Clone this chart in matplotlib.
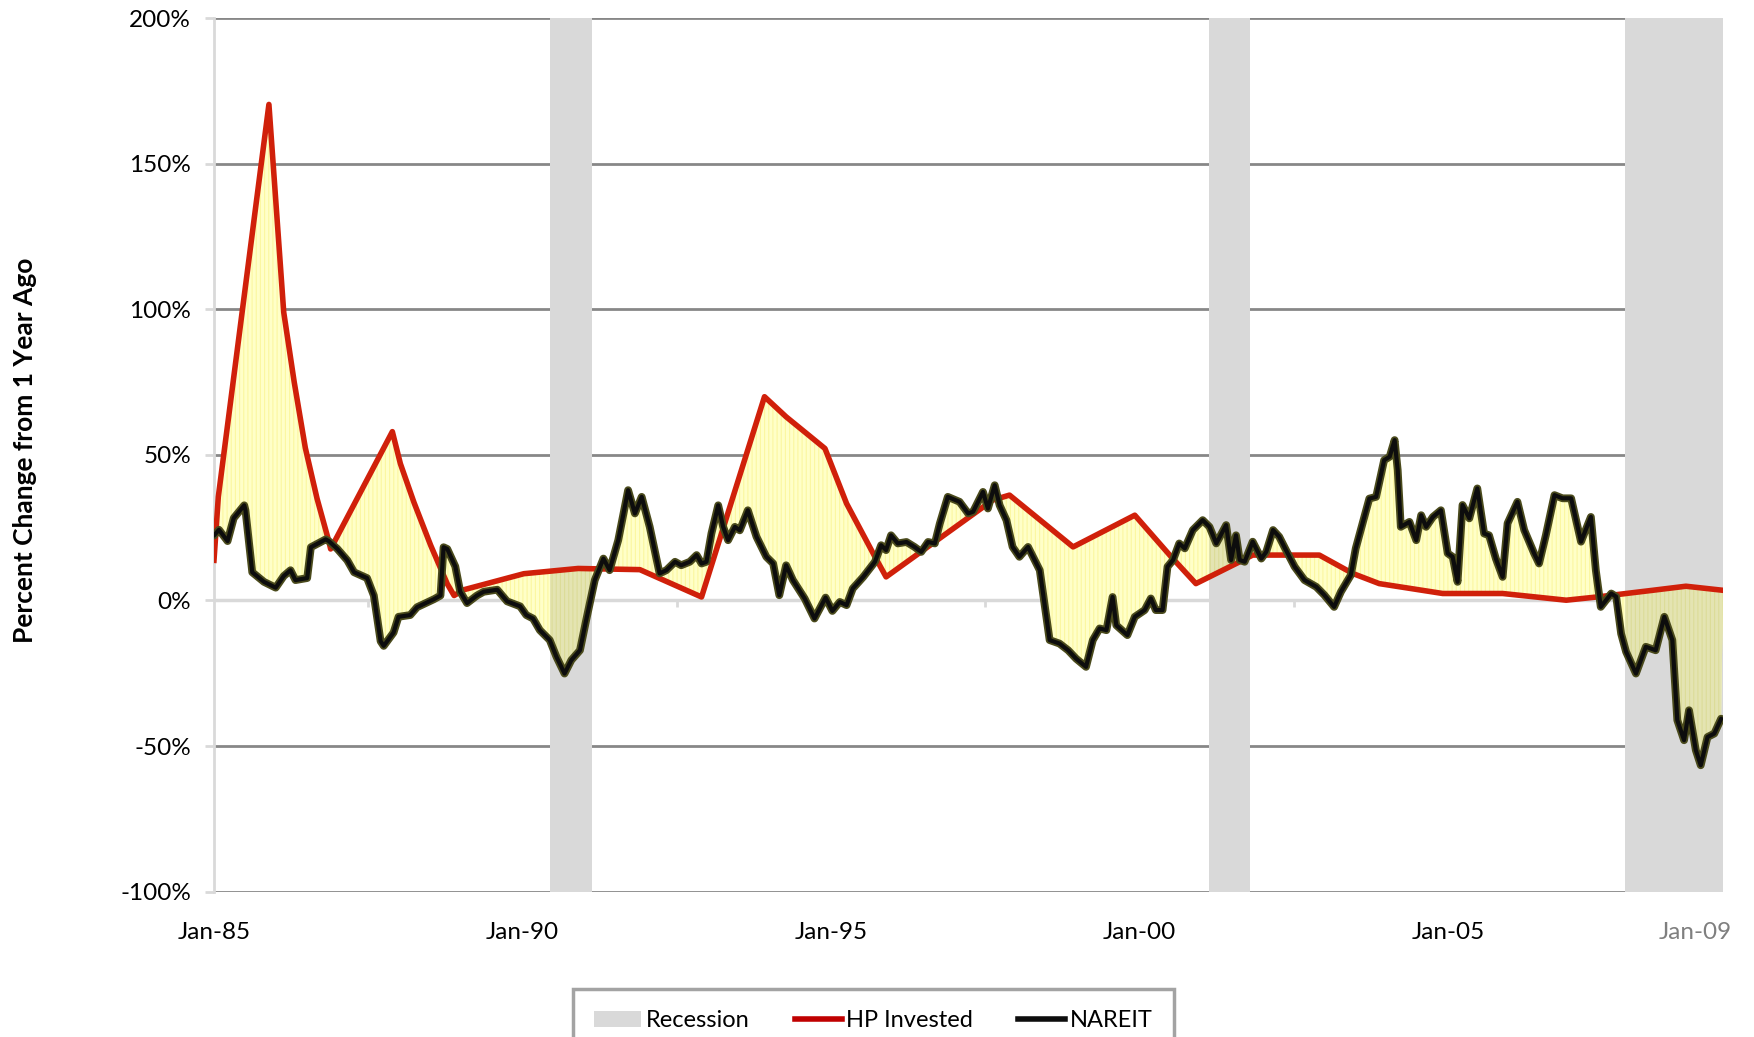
import matplotlib
matplotlib.use("Agg")
import matplotlib.pyplot as plt
from matplotlib.patches import Patch, Rectangle
from matplotlib.lines import Line2D
import numpy as np

plt.rcParams['font.family'] = ['Lato', 'DejaVu Sans']
plt.rcParams['hatch.linewidth'] = 0.8

# NAREIT, % change from 1 year ago (decimal year, value)
nareit_dates = [
    1985.00, 1985.08, 1985.22, 1985.32, 1985.49, 1985.51, 1985.62, 1985.81, 1986.00, 1986.13,
    1986.24, 1986.32, 1986.51, 1986.57, 1986.81, 1986.86, 1987.00, 1987.16, 1987.27, 1987.48,
    1987.59, 1987.70, 1987.75, 1987.91, 1987.99, 1988.18, 1988.29, 1988.56, 1988.67, 1988.72,
    1988.78, 1988.91, 1988.99, 1989.10, 1989.26, 1989.37, 1989.59, 1989.75, 1989.96, 1990.06,
    1990.17, 1990.28, 1990.44, 1990.55, 1990.68, 1990.79, 1990.93, 1991.03, 1991.17, 1991.31,
    1991.41, 1991.55, 1991.71, 1991.82, 1991.93, 1992.06, 1992.22, 1992.33, 1992.47, 1992.57,
    1992.71, 1992.82, 1992.90, 1992.98, 1993.06, 1993.17, 1993.25, 1993.33, 1993.44, 1993.52,
    1993.65, 1993.79, 1993.95, 1994.06, 1994.16, 1994.27, 1994.38, 1994.57, 1994.73, 1994.91,
    1995.02, 1995.14, 1995.25, 1995.35, 1995.52, 1995.71, 1995.81, 1995.89, 1995.97, 1996.08,
    1996.22, 1996.35, 1996.46, 1996.57, 1996.68, 1996.76, 1996.89, 1997.08, 1997.22, 1997.30,
    1997.46, 1997.54, 1997.65, 1997.73, 1997.84, 1997.94, 1998.05, 1998.19, 1998.38, 1998.54,
    1998.70, 1998.84, 1998.97, 1999.13, 1999.24, 1999.35, 1999.46, 1999.56, 1999.62, 1999.80,
    1999.92, 2000.08, 2000.18, 2000.26, 2000.37, 2000.45, 2000.54, 2000.64, 2000.73, 2000.86,
    2001.02, 2001.13, 2001.24, 2001.40, 2001.48, 2001.56, 2001.62, 2001.70, 2001.83, 2001.97,
    2002.05, 2002.16, 2002.26, 2002.37, 2002.51, 2002.67, 2002.86, 2002.99, 2003.15, 2003.26,
    2003.42, 2003.50, 2003.72, 2003.83, 2003.96, 2004.05, 2004.13, 2004.18, 2004.23, 2004.37,
    2004.48, 2004.56, 2004.64, 2004.75, 2004.88, 2004.99, 2005.07, 2005.15, 2005.23, 2005.34,
    2005.47, 2005.58, 2005.66, 2005.77, 2005.88, 2005.96, 2006.12, 2006.23, 2006.39, 2006.47,
    2006.58, 2006.72, 2006.85, 2006.99, 2007.15, 2007.31, 2007.39, 2007.47, 2007.64, 2007.72,
    2007.80, 2007.88, 2008.04, 2008.20, 2008.36, 2008.50, 2008.63, 2008.71, 2008.82, 2008.90,
    2009.01, 2009.09, 2009.20, 2009.31, 2009.42,
]
nareit_vals = [
    22.3, 24.3, 20.4, 28.3, 32.7, 31.0, 9.7, 6.4, 4.4, 8.4,
    10.4, 7.0, 7.7, 18.3, 21.0, 20.4, 17.7, 13.8, 9.7, 7.7,
    1.7, -14.0, -15.6, -11.0, -5.6, -5.0, -2.3, 0.4, 1.7, 18.3,
    17.7, 11.7, 3.0, -0.9, 1.7, 3.0, 3.7, -0.3, -2.0, -5.0,
    -6.2, -10.2, -13.6, -19.4, -25.1, -20.5, -17.1, -6.8, 7.0, 14.4,
    10.4, 20.7, 37.9, 29.9, 35.6, 25.3, 9.3, 10.4, 13.3, 12.1,
    13.3, 15.6, 12.7, 13.3, 23.0, 32.7, 25.3, 20.7, 25.3, 24.1,
    31.0, 21.9, 15.0, 12.7, 1.8, 12.1, 7.0, 0.7, -6.2, 1.0,
    -3.6, -0.5, -1.6, 4.1, 8.1, 13.3, 19.0, 17.3, 22.4, 19.6,
    20.1, 18.4, 16.7, 20.1, 19.6, 26.4, 35.6, 33.9, 29.9, 30.5,
    37.3, 31.6, 39.6, 32.7, 27.6, 18.4, 15.0, 18.4, 10.4, -13.6,
    -14.8, -17.1, -20.0, -22.8, -13.6, -9.6, -10.2, 1.2, -8.5, -11.9,
    -5.6, -3.3, 0.7, -3.3, -3.3, 11.6, 13.9, 19.6, 17.9, 24.2,
    27.6, 25.3, 19.6, 25.9, 13.9, 22.4, 13.9, 13.3, 20.2, 14.4,
    16.7, 24.2, 21.9, 17.3, 11.6, 7.0, 4.7, 1.9, -2.2, 3.0,
    8.7, 17.9, 35.0, 35.6, 48.2, 49.4, 55.1, 44.8, 25.3, 27.0,
    20.7, 29.3, 25.3, 28.7, 31.0, 16.2, 15.0, 6.4, 32.8, 28.2,
    38.5, 23.0, 22.4, 14.4, 8.1, 26.5, 33.9, 24.2, 16.2, 12.7,
    22.4, 36.2, 35.1, 35.1, 20.2, 28.7, 10.4, -2.2, 2.4, 1.3,
    -11.4, -17.6, -25.1, -15.9, -17.1, -5.6, -13.6, -41.1, -48.0, -37.7,
    -51.4, -56.6, -46.9, -45.7, -40.6,
]

# HP Invested, % change from 1 year ago
hp_dates = [
    1985.00, 1985.07, 1985.89, 1986.13, 1986.30, 1986.48, 1986.67, 1986.86, 1986.89, 1987.89,
    1988.02, 1988.24, 1988.51, 1988.78, 1988.89, 1989.05, 1990.02, 1990.90, 1991.90, 1992.90,
    1993.92, 1994.27, 1994.60, 1994.90, 1995.25, 1995.71, 1995.89, 1997.62, 1997.89, 1998.92,
    1999.92, 2000.51, 2000.91, 2001.62, 2001.83, 2002.91, 2003.45, 2003.88, 2004.91, 2005.88,
    2006.91, 2007.45, 2007.88, 2008.31, 2008.85, 2009.45,
]
hp_vals = [
    13.8, 35.6, 170.4, 99.0, 75.0, 52.4, 35.0, 20.4, 17.7, 58.0,
    47.0, 33.7, 19.0, 5.7, 1.7, 3.7, 9.2, 11.0, 10.6, 1.2,
    70.0, 63.1, 57.4, 52.2, 33.3, 15.0, 8.1, 34.5, 36.2, 18.4,
    29.3, 15.0, 5.8, 13.3, 15.6, 15.6, 9.3, 5.8, 2.4, 2.4,
    0.1, 1.3, 2.4, 3.5, 4.9, 3.5,
]

rec_starts = [1990.45, 2001.12, 2007.86]
rec_ends = [1991.12, 2001.78, 2009.45]

xtick_years = [1985, 1990, 1995, 2000, 2005, 2009]
xtick_labels = ["Jan-85", "Jan-90", "Jan-95", "Jan-00", "Jan-05", "Jan-09"]
ytick_vals = [-100, -50, 0, 50, 100, 150, 200]

fig = plt.figure(figsize=(17.54, 10.37), dpi=100)
ax = fig.add_axes([0.122, 0.1402, 0.8603, 0.8422])

ax.set_xlim(1985.0, 2009.45)
ax.set_ylim(-100, 200)

# grid lines (dark) and the zero axis line (light)
ax.set_axisbelow(True)
ax.set_yticks(ytick_vals)
ax.set_yticklabels([f"{v}%" for v in ytick_vals])
ax.yaxis.grid(True, color="#878787", linewidth=2)
ax.axhline(0, color="#d9d9d9", linewidth=2.5, zorder=0.8)

# recession bars
for s, e in zip(rec_starts, rec_ends):
    ax.axvspan(s, e, color="#d9d9d9", linewidth=0, zorder=1)

# fill between the two series
poly_x = np.concatenate([nareit_dates, hp_dates[::-1]])
poly_y = np.concatenate([nareit_vals, hp_vals[::-1]])
ax.fill(poly_x, poly_y, facecolor="#ffffc8", edgecolor="#fbf7a0", linewidth=0,
        hatch="||||", zorder=2)
for s, e in zip(rec_starts, rec_ends):
    clip = Rectangle((s, -100), e - s, 300, transform=ax.transData)
    shade = ax.fill(poly_x, poly_y, facecolor="#e4e4b2", edgecolor="#dcdc98", linewidth=0,
                    hatch="||||", zorder=2.1)[0]
    shade.set_clip_path(clip)

ax.plot(hp_dates, hp_vals, color="#d0200a", linewidth=4.0, solid_joinstyle="round", zorder=3)
ax.plot(nareit_dates, nareit_vals, color="#4a4a1c", linewidth=5.6, solid_joinstyle="round",
        solid_capstyle="round", zorder=4)
ax.plot(nareit_dates, nareit_vals, color="#0d0d0d", linewidth=3.0, solid_joinstyle="round",
        solid_capstyle="round", zorder=4.1)

# axes styling
for side in ["top", "right", "bottom"]:
    ax.spines[side].set_visible(False)
ax.spines["left"].set_color("#d9d9d9")
ax.spines["left"].set_linewidth(2)
ax.tick_params(axis="y", length=6.5, width=2, color="#d9d9d9", pad=10, labelsize=17.5)

ax.set_xticks(xtick_years)
ax.set_xticklabels(xtick_labels)
ax.tick_params(axis="x", length=0, pad=22, labelsize=17.5)
ax.get_xticklabels()[-1].set_color("#7f7f7f")

# small tick marks on the zero line
sec = ax.secondary_xaxis(1 / 3)
sec.set_xticks([1987.5, 1992.5, 1997.5, 2002.5, 2007.5])
sec.tick_params(axis="x", length=5, width=2, color="#d9d9d9", labelbottom=False, labeltop=False)
for side in sec.spines:
    sec.spines[side].set_visible(False)

fig.text(0.0145, 0.566, "Percent Change from 1 Year Ago", rotation=90, ha="center", va="center",
         fontsize=19, fontweight="bold")

handles = [
    Patch(facecolor="#d9d9d9", edgecolor="none"),
    Line2D([], [], color="#c00000", linewidth=4),
    Line2D([], [], color="#0d0d0d", linewidth=4),
]
leg = fig.legend(handles, ["Recession", "HP Invested", "NAREIT"], loc="upper center",
                 bbox_to_anchor=(0.498, 0.0463), ncol=3, fontsize=17, frameon=True,
                 fancybox=False, edgecolor="#8c8c8c", borderpad=0.9, borderaxespad=0,
                 handlelength=2.0, handletextpad=0.2, columnspacing=1.9)
leg.get_frame().set_linewidth(2.5)

fig.savefig("out.png", dpi=100)
